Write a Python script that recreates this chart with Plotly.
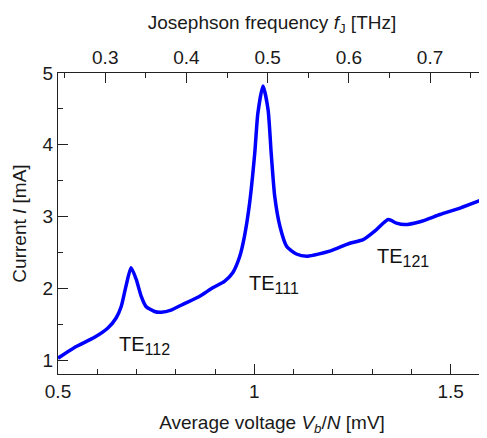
import plotly.graph_objects as go

# Average voltage V_b/N [mV] and current I [mA]
voltage = [0.500, 0.542, 0.593, 0.627, 0.648, 0.661, 0.673, 0.686, 0.699, 0.712,
           0.724, 0.746, 0.763, 0.788, 0.818, 0.860, 0.894, 0.924, 0.945, 0.963,
           0.975, 0.988, 1.001, 1.009, 1.022, 1.035, 1.043, 1.052, 1.065, 1.082,
           1.107, 1.135, 1.192, 1.243, 1.277, 1.311, 1.341, 1.362, 1.383, 1.422,
           1.473, 1.524, 1.592]
current = [1.03, 1.18, 1.32, 1.45, 1.59, 1.75, 2.03, 2.29, 2.13, 1.89,
           1.75, 1.68, 1.67, 1.70, 1.78, 1.89, 2.01, 2.10, 2.22, 2.45,
           2.73, 3.19, 3.88, 4.44, 4.82, 4.49, 3.88, 3.28, 2.87, 2.59,
           2.48, 2.45, 2.52, 2.63, 2.68, 2.82, 2.96, 2.91, 2.89, 2.93,
           3.03, 3.12, 3.26]

# mode labels
mode_base = ["TE", "TE", "TE"]
mode_index = ["112", "111", "121"]
mode_x = [0.720, 1.049, 1.378]
mode_y = [1.20, 2.05, 2.43]

KJ = 0.48360  # THz per mV (2e/h)
freq = [KJ * v for v in voltage]

xr = [0.5, 1.59]
yr = [0.81, 5.0]
FAM = "Liberation Sans, Arial, sans-serif"
font = dict(family=FAM, size=19, color="#1a1a1a")

fig = go.Figure()
fig.add_trace(go.Scatter(x=voltage, y=current, mode="lines",
                         line=dict(color="#0000ff", width=3.5, shape="spline", smoothing=0.6),
                         showlegend=False, hoverinfo="skip"))
fig.add_trace(go.Scatter(x=freq, y=current, xaxis="x2", mode="lines",
                         line=dict(width=0), opacity=0, showlegend=False, hoverinfo="skip"))

for base, idx, x, y in zip(mode_base, mode_index, mode_x, mode_y):
    fig.add_annotation(x=x, y=y, showarrow=False,
                       text=f"{base}<sub><span style='font-size:16px'>{idx}</span></sub>",
                       font=dict(family=FAM, size=20, color="#111"))

axis_common = dict(showline=True, linecolor="#222", linewidth=1, mirror=False,
                   ticks="inside", ticklen=10, tickcolor="#222", tickwidth=1,
                   showgrid=False, zeroline=False, tickfont=font, automargin=False)
minor = dict(ticks="inside", ticklen=5, tickcolor="#222")

# page body adds an 8px margin, so the figure is a bit smaller than the window
fig.update_layout(
    width=479, height=430,
    margin=dict(l=50, r=1, t=65, b=64),
    plot_bgcolor="white", paper_bgcolor="white",
    font=font,
    xaxis=dict(range=xr, tickvals=[0.5, 1, 1.5], ticktext=["0.5", "1", "1.5"],
               minor=dict(dtick=0.1, **minor),
               title=dict(text="Average voltage <i>V<sub>b</sub></i>/<i>N</i> [mV]",
                          font=font, standoff=14),
               **axis_common),
    xaxis2=dict(range=[KJ * xr[0], KJ * xr[1]], overlaying="x", side="top",
                tick0=0.3, dtick=0.1, tickformat=".1f",
                minor=dict(dtick=0.05, **minor),
                title=dict(text="Josephson frequency <i>f</i><sub>J</sub> [THz]",
                           font=font, standoff=12),
                **axis_common),
    yaxis=dict(range=yr, dtick=1, tick0=1,
               minor=dict(dtick=0.5, **minor),
               title=dict(text="Current <i>I</i> [mA]", font=font, standoff=10),
               **axis_common),
    yaxis2=dict(range=yr, overlaying="y", side="right", dtick=1, tick0=1,
                showticklabels=False, minor=dict(dtick=0.5, **minor),
                **axis_common),
)

fig.write_html("out.html")
